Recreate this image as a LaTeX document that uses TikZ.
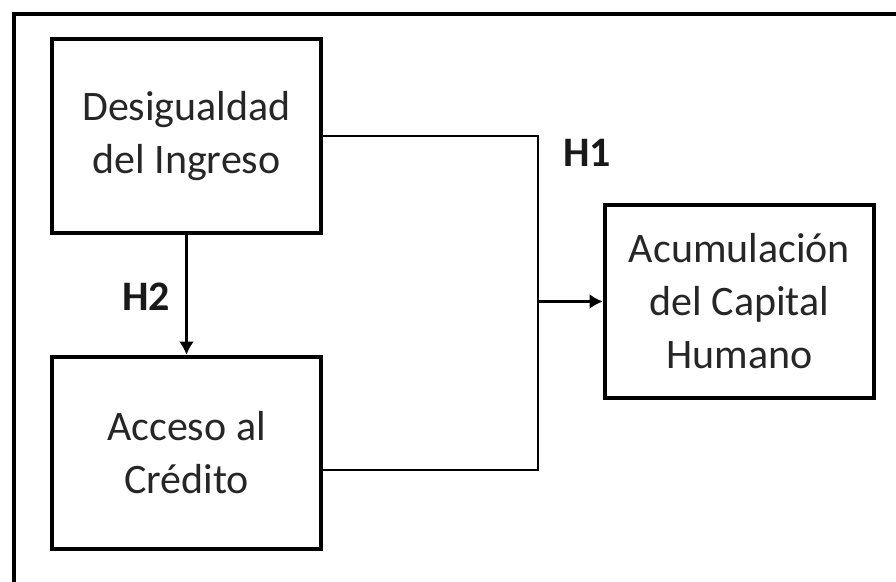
\documentclass[tikz,border=0pt]{standalone}
\usepackage{fontspec}
\setmainfont{Carlito}
\usetikzlibrary{arrows.meta,positioning}

\begin{document}
\begin{tikzpicture}[x=0.5pt,y=-0.5pt]
    \tikzstyle{var}=[draw=black, line width=2.3pt, align=center, text=black!85, minimum width=134.5pt, font=\fontsize{21}{26.5}\selectfont]
    \tikzstyle{hyp}=[text=black!90, font=\bfseries\fontsize{21}{26}\selectfont]
    \tikzstyle{link}=[line width=1pt]
    \tikzstyle{arr}=[line width=1.9pt, -{Latex[length=6.5pt,width=7.5pt]}]
    \useasboundingbox (0,0) rectangle (896,582);
    \draw[line width=2.2pt] (14,582) -- (14,14) -- (896,14);
    \node[var, minimum height=97pt] (desig) at (186.5,136) {Desigualdad\\del Ingreso};
    \node[var, minimum height=96pt] (acc) at (186.5,453) {Acceso al\\Cr\'edito};
    \node[var, minimum height=96.5pt] (acum) at (739.5,301.5) {Acumulaci\'on\\del Capital\\Humano};
    \coordinate (j) at (538,301.5);
    \path[draw, link] (desig.east) -| (j);
    \path[draw, link] ([yshift=-8.5pt]acc.east) -| (j);
    \path[draw, arr] (j) -- (acum.west);
    \path[draw, arr] (desig.south) -- (acc.north);
    \node[hyp] (h1) at (587,153) {H1};
    \node[hyp] (h2) at (146,297) {H2};
\end{tikzpicture}
\end{document}
